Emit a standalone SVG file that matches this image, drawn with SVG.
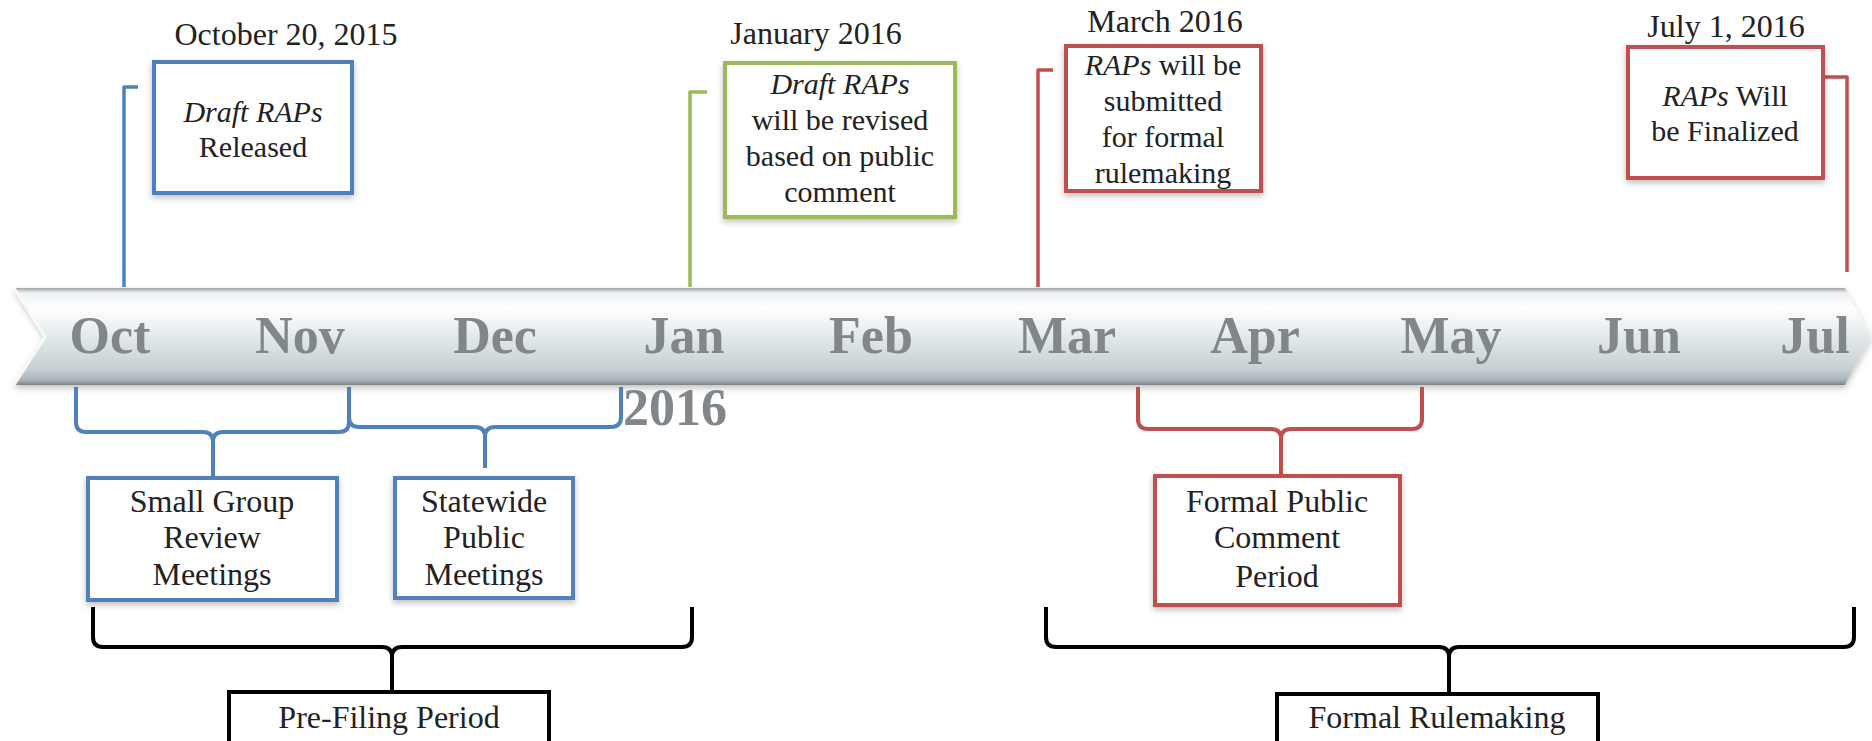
<svg xmlns="http://www.w3.org/2000/svg" width="1872" height="741" viewBox="0 0 1872 741">
<defs>
<linearGradient id="band" x1="0" y1="0" x2="0" y2="1">
<stop offset="0" stop-color="#9ea3a6"/>
<stop offset="0.05" stop-color="#eef1f2"/>
<stop offset="0.2" stop-color="#ffffff"/>
<stop offset="0.5" stop-color="#e3e9eb"/>
<stop offset="0.85" stop-color="#c4ced2"/>
<stop offset="0.95" stop-color="#a9b3b7"/>
<stop offset="1" stop-color="#7b8387"/>
</linearGradient>
<filter id="sh" x="-5%" y="-10%" width="110%" height="130%">
<feDropShadow dx="0" dy="3" stdDeviation="3" flood-color="#000" flood-opacity="0.25"/>
</filter>
</defs>
<style>
.t{font-family:"Liberation Serif","Times New Roman",serif;fill:#222;text-anchor:middle}
.s30{font-size:30px}
.s32{font-size:32px}
.it{font-style:italic}
.m{font-family:"Liberation Serif","Times New Roman",serif;font-weight:bold;font-size:52px;fill:#80868a;text-anchor:middle}
.bx{fill:#fff;stroke-width:4}
.blue{stroke:#4f81bd}
.green{stroke:#9bbb59}
.red{stroke:#c0504d}
.blk{stroke:#000}
.ln{fill:none;stroke-width:3.5;stroke-linejoin:round}
.br{fill:none;stroke-width:4;stroke-linejoin:round}
</style>
<rect width="1872" height="741" fill="#ffffff"/>

<g id="timeline">
<path d="M14,288 L1845,288 L1871,337 L1845,385 L14,385 L45,337 Z" fill="url(#band)" filter="url(#sh)"/>
<path d="M14,288 L45,337 L14,385" fill="none" stroke="#f7f9fa" stroke-width="3"/>
<text class="m" x="110" y="353">Oct</text>
<text class="m" x="300" y="353">Nov</text>
<text class="m" x="495" y="353">Dec</text>
<text class="m" x="684" y="353">Jan</text>
<text class="m" x="871" y="353">Feb</text>
<text class="m" x="1067" y="353">Mar</text>
<text class="m" x="1255" y="353">Apr</text>
<text class="m" x="1451" y="353">May</text>
<text class="m" x="1639" y="353">Jun</text>
<text class="m" x="1815" y="353">Jul</text>
<text class="m" x="675" y="425">2016</text>
</g>

<g id="connectors">
<path class="ln blue" d="M124,287 V87 H138"/>
<path class="ln green" d="M690,287 V92 H707"/>
<path class="ln red" d="M1038,287 V70 H1053"/>
<path class="ln red" d="M1823,77 H1847 V272"/>
<path class="br blue" d="M76,387 V422 Q76,432 86,432 H203 Q213,432 213,442 V477 M213,442 Q213,432 223,432 H339 Q349,432 349,422 V387"/>
<path class="br blue" d="M349,387 V417 Q349,427 359,427 H475 Q485,427 485,437 V468 M485,437 Q485,427 495,427 H611 Q621,427 621,417 V387"/>
<path class="br red" d="M1138,387 V419 Q1138,429 1148,429 H1271 Q1281,429 1281,439 V476 M1281,439 Q1281,429 1291,429 H1412 Q1422,429 1422,419 V387"/>
<path class="br blk" d="M93,607 V637 Q93,647 103,647 H382 Q392,647 392,657 V692 M392,657 Q392,647 402,647 H682 Q692,647 692,637 V607"/>
<path class="br blk" d="M1046,607 V637 Q1046,647 1056,647 H1439 Q1449,647 1449,657 V694 M1449,657 Q1449,647 1459,647 H1844 Q1854,647 1854,637 V607"/>
</g>

<g id="oct-release">
<text class="t s32" x="286" y="45">October 20, 2015</text>
<rect class="bx blue" x="154" y="62" width="198" height="131" filter="url(#sh)"/>
<text class="t s30 it" x="253" y="122">Draft RAPs</text>
<text class="t s30" x="253" y="157">Released</text>
</g>

<g id="jan-revise">
<text class="t s32" x="816" y="44">January 2016</text>
<rect class="bx green" x="725" y="63" width="230" height="154" filter="url(#sh)"/>
<text class="t s30 it" x="840" y="94">Draft RAPs</text>
<text class="t s30" x="840" y="130">will be revised</text>
<text class="t s30" x="840" y="166">based on public</text>
<text class="t s30" x="840" y="202">comment</text>
</g>

<g id="mar-submit">
<text class="t s32" x="1165" y="32">March 2016</text>
<rect class="bx red" x="1066" y="46" width="195" height="145" filter="url(#sh)"/>
<text class="t s30" x="1163" y="75"><tspan class="it">RAPs</tspan> will be</text>
<text class="t s30" x="1163" y="111">submitted</text>
<text class="t s30" x="1163" y="147">for formal</text>
<text class="t s30" x="1163" y="183">rulemaking</text>
</g>

<g id="jul-final">
<text class="t s32" x="1726" y="37">July 1, 2016</text>
<rect class="bx red" x="1628" y="47" width="195" height="131" filter="url(#sh)"/>
<text class="t s30" x="1725" y="106"><tspan class="it">RAPs</tspan> Will</text>
<text class="t s30" x="1725" y="141">be Finalized</text>
</g>

<g id="small-group">
<rect class="bx blue" x="88" y="478" width="249" height="122" filter="url(#sh)"/>
<text class="t s32" x="212" y="512">Small Group</text>
<text class="t s32" x="212" y="548">Review</text>
<text class="t s32" x="212" y="585">Meetings</text>
</g>

<g id="statewide">
<rect class="bx blue" x="395" y="478" width="178" height="120" filter="url(#sh)"/>
<text class="t s32" x="484" y="512">Statewide</text>
<text class="t s32" x="484" y="548">Public</text>
<text class="t s32" x="484" y="585">Meetings</text>
</g>

<g id="public-comment">
<rect class="bx red" x="1155" y="476" width="245" height="129" filter="url(#sh)"/>
<text class="t s32" x="1277" y="512">Formal Public</text>
<text class="t s32" x="1277" y="548">Comment</text>
<text class="t s32" x="1277" y="587">Period</text>
</g>

<g id="pre-filing">
<rect class="bx blk" x="229" y="692" width="320" height="60"/>
<text class="t s32" x="389" y="728">Pre-Filing Period</text>
</g>

<g id="formal-rulemaking">
<rect class="bx blk" x="1277" y="694" width="321" height="60"/>
<text class="t s32" x="1437" y="728">Formal Rulemaking</text>
</g>
</svg>
